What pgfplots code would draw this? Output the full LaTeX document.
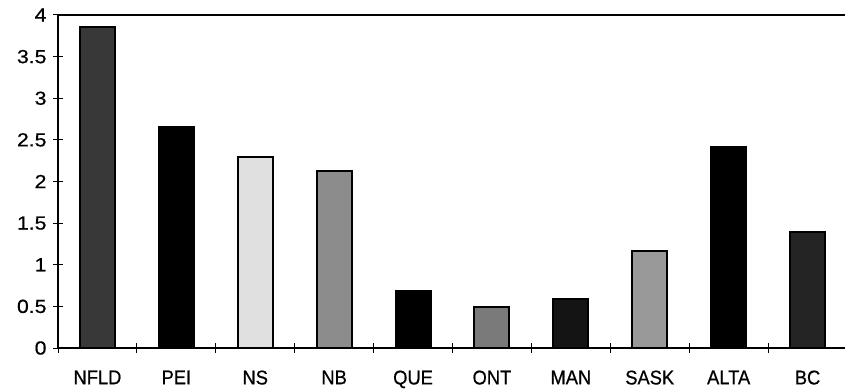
\documentclass[border=0pt]{standalone}
\usepackage{fontspec}
\setmainfont{Liberation Sans}
\newfontfamily\ylabfont[FakeStretch=1.12, FakeBold=0.6]{Liberation Sans}
\newfontfamily\xlabfont[FakeStretch=0.92, FakeBold=0.6]{Liberation Sans}
\usepackage{pgfplots}
\pgfplotsset{compat=1.18}

\begin{document}
\begin{tikzpicture}
% page frame: the right border of the plot box falls just past the page edge
\useasboundingbox (-58bp,-41bp) rectangle (787bp,15bp+333bp);
\begin{axis}[
  at={(0,0)}, anchor=south west,
  scale only axis,
  width=789bp, height=333bp,
  xmin=-0.5, xmax=9.5,
  ymin=0, ymax=4,
  ytick={0,0.5,...,4},
  yticklabels={0,0.5,1,1.5,2,2.5,3,3.5,4},
  yticklabel style={font={\ylabfont\fontsize{19}{21}\selectfont}, xshift=-3bp},
  xtick={0,...,9},
  xticklabels={NFLD,PEI,NS,NB,QUE,ONT,MAN,SASK,ALTA,BC},
  xticklabel style={font={\xlabfont\fontsize{20}{22}\selectfont}, yshift=-14bp},
  minor xtick={-0.5,0.5,...,9.5},
  major x tick style={draw=none},
  xtick pos=bottom, ytick pos=left,
  tick align=center,
  major tick length=10bp,
  minor tick length=10bp,
  tick style={black, line width=1bp},
  axis line style={line width=1.6bp},
  clip=false,
]
\addplot[ybar, bar width=35bp, draw=black, line width=2bp, fill=black!78] coordinates {(0,3.86)};
\addplot[ybar, bar width=35bp, draw=black, line width=2bp, fill=black] coordinates {(1,2.65)};
\addplot[ybar, bar width=35bp, draw=black, line width=2bp, fill=black!12] coordinates {(2,2.29)};
\addplot[ybar, bar width=35bp, draw=black, line width=2bp, fill=black!45] coordinates {(3,2.13)};
\addplot[ybar, bar width=35bp, draw=black, line width=2bp, fill=black] coordinates {(4,0.68)};
\addplot[ybar, bar width=35bp, draw=black, line width=2bp, fill=black!52] coordinates {(5,0.49)};
\addplot[ybar, bar width=35bp, draw=black, line width=2bp, fill=black!92] coordinates {(6,0.59)};
\addplot[ybar, bar width=35bp, draw=black, line width=2bp, fill=black!40] coordinates {(7,1.16)};
\addplot[ybar, bar width=35bp, draw=black, line width=2bp, fill=black] coordinates {(8,2.42)};
\addplot[ybar, bar width=35bp, draw=black, line width=2bp, fill=black!86] coordinates {(9,1.39)};
\end{axis}
\end{tikzpicture}
\end{document}
